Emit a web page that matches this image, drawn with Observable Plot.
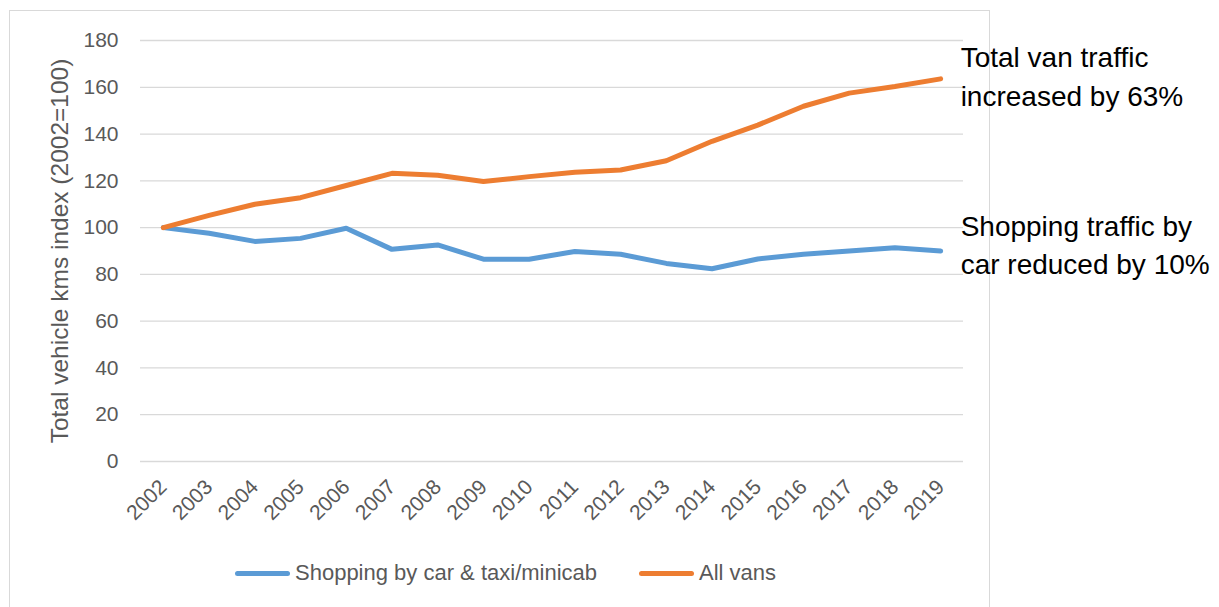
<!DOCTYPE html>
<html>
<head>
<meta charset="utf-8">
<script src="https://cdn.jsdelivr.net/npm/d3@7"></script>
<script src="https://cdn.jsdelivr.net/npm/@observablehq/plot@0.6"></script>
<style>
  html, body { margin: 0; padding: 0; background: #fff; }
  #wrap { position: relative; width: 1219px; height: 607px; overflow: hidden; font-family: "Liberation Sans", Arial, sans-serif; }
  #frame { position: absolute; left: 9px; top: 10px; width: 981px; height: 620px; border: 1px solid #d9d9d9; box-sizing: border-box; }
  #chart { position: absolute; left: 0; top: 0; }
  .legend { position: absolute; top: 560px; height: 26px; display: flex; align-items: center; }
  .legend .sw { width: 55px; height: 5px; border-radius: 3px; margin-right: 5px; }
  .legend .lab { font-size: 22px; color: #595959; white-space: nowrap; }
</style>
</head>
<body>
<div id="wrap">
  <div id="frame"></div>
  <div id="chart"></div>
</div>
<script>
const years = ["2002","2003","2004","2005","2006","2007","2008","2009","2010","2011","2012","2013","2014","2015","2016","2017","2018","2019"];
const shopping = [100, 97.6, 94.1, 95.4, 99.7, 90.7, 92.6, 86.5, 86.5, 89.8, 88.6, 84.7, 82.4, 86.6, 88.6, 90.0, 91.4, 90.0];
const vans = [100, 105.2, 110.0, 112.8, 118.0, 123.2, 122.4, 119.7, 121.8, 123.7, 124.6, 128.6, 136.9, 143.8, 151.9, 157.5, 160.3, 163.6];
const seriesNames = ["Shopping by car & taxi/minicab", "All vans"];
const seriesColors = ["#5B9BD5", "#ED7D31"];
const annotations = ["Shopping traffic by\ncar reduced by 10%", "Total van traffic\nincreased by 63%"];
const yTicks = [0, 20, 40, 60, 80, 100, 120, 140, 160, 180];
const yLabel = "Total vehicle kms index (2002=100)";

const data = [];
years.forEach((y, i) => {
  data.push({year: y, value: shopping[i], series: seriesNames[0]});
  data.push({year: y, value: vans[i], series: seriesNames[1]});
});
const last = years.length - 1;
const ends = [
  {year: years[last], value: shopping[last], text: annotations[0]},
  {year: years[last], value: vans[last], text: annotations[1]}
];

const chart = Plot.plot({
  width: 1219,
  height: 607,
  marginLeft: 140,
  marginRight: 256,
  marginTop: 40,
  marginBottom: 146,
  style: {background: "transparent", fontFamily: "'Liberation Sans', Arial, sans-serif", overflow: "visible"},
  x: {type: "point", domain: years, padding: 0.5, round: false},
  y: {domain: [0, 180]},
  color: {domain: seriesNames, range: seriesColors},
  marks: [
    Plot.gridY(yTicks, {stroke: "#d9d9d9", strokeOpacity: 1, strokeWidth: 1.3}),
    Plot.axisY(yTicks, {tickSize: 0, tickPadding: 22, fontSize: 21, fill: "#595959", label: null}),
    Plot.text([yLabel], {frameAnchor: "left", dx: -80, rotate: -90, fontSize: 24.5, fill: "#595959", textAnchor: "middle"}),
    Plot.axisX({tickSize: 0, tickPadding: 22, tickRotate: -45, fontSize: 21, fill: "#595959", label: null}),
    Plot.line(data, {x: "year", y: "value", z: "series", stroke: "series", strokeWidth: 5, strokeLinecap: "round", strokeLinejoin: "round"}),
    Plot.text([ends[1]], {x: "year", y: "value", text: "text", textAnchor: "start", dx: 20, dy: -5, fontSize: 28, lineHeight: 1.4, fill: "#000"}),
    Plot.text([ends[0]], {x: "year", y: "value", text: "text", textAnchor: "start", dx: 20, dy: -8, fontSize: 28, lineHeight: 1.35, fill: "#000"})
  ]
});
document.getElementById("chart").appendChild(chart);

const wrap = document.getElementById("wrap");
const legendX = [235, 639];
seriesNames.forEach((name, i) => {
  const item = document.createElement("div");
  item.className = "legend";
  item.style.left = legendX[i] + "px";
  const sw = document.createElement("div");
  sw.className = "sw";
  sw.style.background = seriesColors[i];
  const lab = document.createElement("div");
  lab.className = "lab";
  lab.textContent = name;
  item.appendChild(sw);
  item.appendChild(lab);
  wrap.appendChild(item);
});
</script>
</body>
</html>
